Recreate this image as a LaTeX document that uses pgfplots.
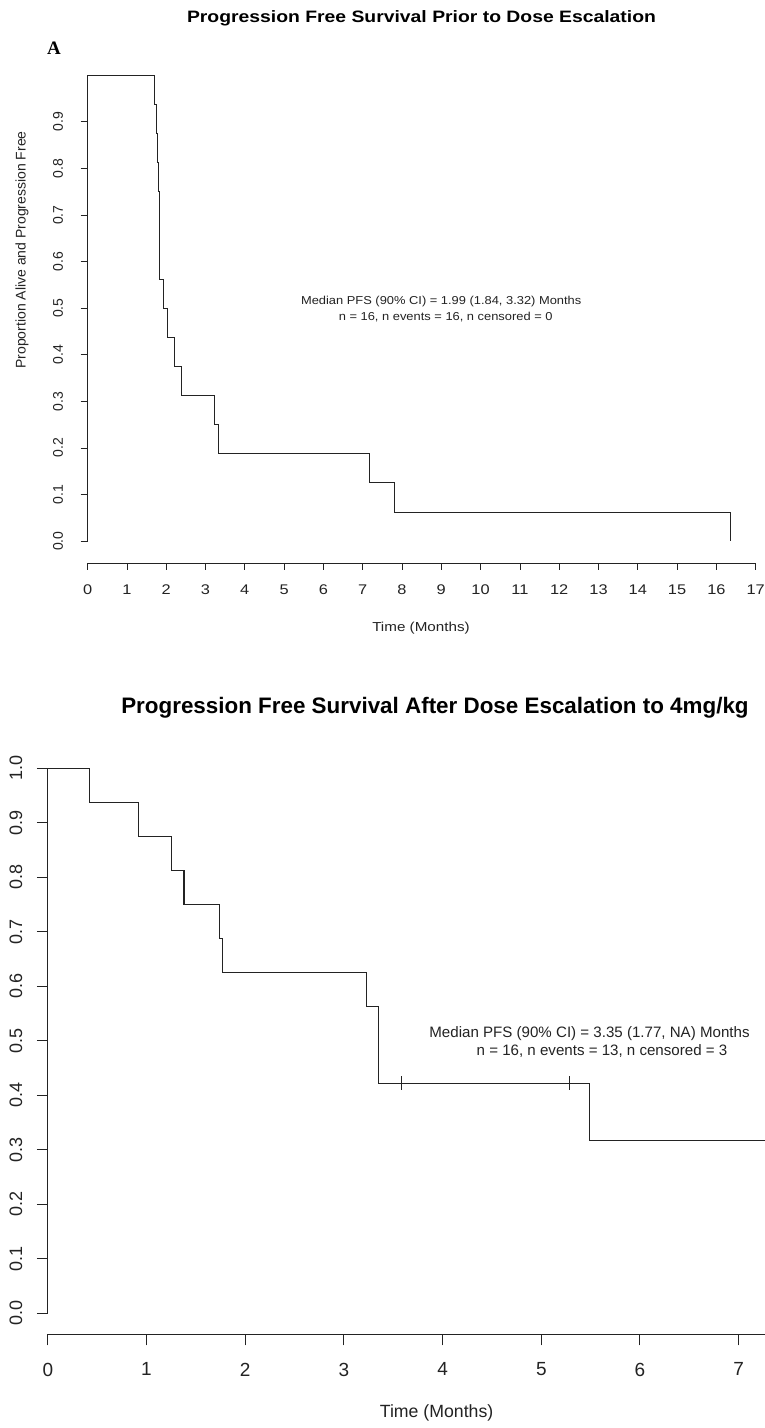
\documentclass[border=0pt]{standalone}
\usepackage{graphicx}
\usepackage{pgfplots}
\pgfplotsset{compat=1.18}
\usepackage{fontspec}
\setmainfont{Liberation Sans}
\newfontfamily\serifbf{Liberation Serif}
\newcommand\fs[1]{\fontsize{#1}{#1}\selectfont}
\newcommand\sx[2]{\scalebox{#1}[1]{#2}}
\newcommand\tx[1]{\sx{1.17}{#1}}
\definecolor{ink}{RGB}{35,35,35}
\begin{document}
\begin{tikzpicture}[x=1pt,y=1pt]
\clip (0,0) rectangle (765,1428);
\fill[white] (0,0) rectangle (765,1428);
% ---------------- top panel ----------------
\begin{axis}[
  at={(87.6pt,865pt)}, anchor=south west, scale only axis,
  width=668.1pt, height=506.3pt,
  xmin=0, xmax=17, ymin=-0.047, ymax=1.04,
  axis x line*=bottom, axis y line*=left, axis line style={draw=none},
  tick align=outside, major tick length=7pt,
  tick style={ink, line width=0.8pt},
  xtick={0,1,2,3,4,5,6,7,8,9,10,11,12,13,14,15,16,17},
  xticklabels={\tx{0},\tx{1},\tx{2},\tx{3},\tx{4},\tx{5},\tx{6},\tx{7},\tx{8},\tx{9},\tx{10},\tx{11},\tx{12},\tx{13},\tx{14},\tx{15},\tx{16},\tx{17}},
  ytick={0,0.1,0.2,0.3,0.4,0.5,0.6,0.7,0.8,0.9},
  yticklabels={0.0,0.1,0.2,0.3,0.4,0.5,0.6,0.7,0.8,0.9},
  xticklabel style={font=\fs{14}, text=ink, anchor=north, yshift=-11pt},
  yticklabel style={font=\fs{14}, text=ink, rotate=90, anchor=south, yshift=14pt},
  clip=false,
]
\addplot[const plot, ink, line width=0.9pt] coordinates {
 (0,1) (1.71,0.9375) (1.76,0.875) (1.78,0.8125) (1.80,0.75) (1.84,0.5625)
 (1.93,0.5) (2.04,0.4375) (2.21,0.375) (2.40,0.3125) (3.22,0.25) (3.32,0.1875)
 (7.18,0.125) (7.81,0.0625) (16.36,0)};
\draw[ink, line width=0.8pt] (axis cs:0,0) -- (axis cs:0,1);
\draw[ink, line width=0.8pt] (axis cs:0,-0.047) -- (axis cs:17,-0.047);
\end{axis}
% ---------------- bottom panel ----------------
\begin{axis}[
  at={(47.8pt,93.7pt)}, anchor=south west, scale only axis,
  width=773.8pt, height=587.8pt,
  xmin=0, xmax=7.84, ymin=-0.0391, ymax=1.04,
  axis x line*=bottom, axis y line*=left, axis line style={draw=none},
  tick align=outside, major tick length=11pt,
  tick style={ink, line width=1pt},
  xtick={0,1,2,3,4,5,6,7,8},
  xticklabels={0,1,2,3,4,5,6,7,8},
  ytick={0,0.1,0.2,0.3,0.4,0.5,0.6,0.7,0.8,0.9,1.0},
  yticklabels={0.0,0.1,0.2,0.3,0.4,0.5,0.6,0.7,0.8,0.9,1.0},
  xticklabel style={font=\fs{19}, text=ink, anchor=north, yshift=-14pt},
  yticklabel style={font=\fs{18}, text=ink, rotate=90, anchor=south, yshift=11pt},
  clip=false,
]
\addplot[const plot, ink, line width=1.2pt] coordinates {
 (0,1) (0.42,0.9375) (0.917,0.875) (1.25,0.8125) (1.38,0.75) (1.74,0.6875)
 (1.77,0.625) (3.23,0.5625) (3.35,0.4219) (5.49,0.3164) (7.9,0.3164)};
\addplot[only marks, mark=|, mark size=7pt, ink, line width=1pt] coordinates {
 (3.58,0.4219) (5.29,0.4219)};
\draw[ink, line width=1pt] (axis cs:0,0) -- (axis cs:0,1);
\draw[ink, line width=1pt] (axis cs:0,-0.0391) -- (axis cs:8,-0.0391);
\end{axis}
% ---------------- texts ----------------
\node[font=\bfseries\fs{16.5}, text=black] at (421.5,1410) {\sx{1.173}{Progression Free Survival Prior to Dose Escalation}};
\node[font=\serifbf\bfseries\fs{19}, text=black] at (54,1380) {A};
\node[font=\fs{14}, text=ink, rotate=90] at (22,1178) {Proportion Alive and Progression Free};
\node[font=\fs{11.5}, text=ink] at (441.2,1126.3) {\sx{1.12}{Median PFS (90\% CI) = 1.99 (1.84, 3.32) Months}};
\node[font=\fs{11.5}, text=ink] at (445.7,1110.7) {\sx{1.12}{n = 16, n events = 16, n censored = 0}};
\node[font=\fs{13}, text=ink] at (421,800.3) {\tx{Time (Months)}};
\node[font=\bfseries\fs{22.4}, text=black] at (435,720) {Progression Free Survival After Dose Escalation to 4mg/kg};
\node[font=\fs{15.1}, text=ink] at (589.5,394.7) {Median PFS (90\% CI) = 3.35 (1.77, NA) Months};
\node[font=\fs{15.1}, text=ink] at (602,377) {n = 16, n events = 13, n censored = 3};
\node[font=\fs{17.7}, text=ink] at (436.6,15) {Time (Months)};
\end{tikzpicture}
\end{document}
